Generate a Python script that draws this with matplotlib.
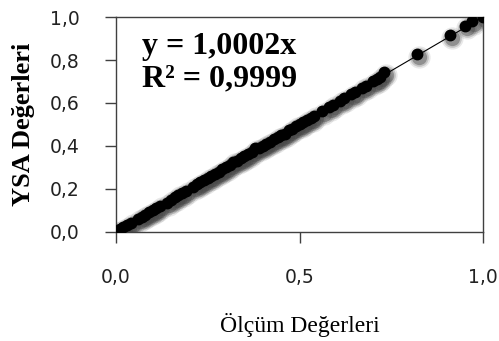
import numpy as np
import matplotlib
matplotlib.use('Agg')
import matplotlib.pyplot as plt
import matplotlib.transforms as mtransforms

# olcum (x) ve YSA (y) degerleri
olcum = [0.00, 0.01, 0.02, 0.03, 0.04, 0.06, 0.07, 0.08, 0.09, 0.10,
         0.11, 0.12, 0.14, 0.15, 0.16, 0.17, 0.18, 0.19, 0.21, 0.22,
         0.23, 0.24, 0.25, 0.26, 0.27, 0.28, 0.29, 0.30, 0.31, 0.32,
         0.33, 0.34, 0.35, 0.36, 0.37, 0.38, 0.39, 0.40, 0.41, 0.42,
         0.43, 0.44, 0.45, 0.46, 0.47, 0.48, 0.49, 0.50, 0.51, 0.52,
         0.53, 0.54, 0.56, 0.58, 0.59, 0.61, 0.62, 0.64, 0.65, 0.67,
         0.68, 0.70, 0.71, 0.72, 0.73, 0.82, 0.91, 0.95, 0.97, 1.00]
ysa = [0.005, 0.012, 0.021, 0.030, 0.042, 0.060, 0.071, 0.080, 0.092, 0.100,
       0.111, 0.121, 0.135, 0.150, 0.161, 0.172, 0.180, 0.192, 0.210, 0.221,
       0.230, 0.240, 0.252, 0.260, 0.271, 0.280, 0.291, 0.302, 0.312, 0.326,
       0.332, 0.343, 0.352, 0.361, 0.372, 0.390, 0.392, 0.400, 0.411, 0.420,
       0.431, 0.442, 0.450, 0.456, 0.472, 0.481, 0.493, 0.502, 0.511, 0.521,
       0.530, 0.541, 0.561, 0.580, 0.592, 0.610, 0.621, 0.640, 0.651, 0.672,
       0.681, 0.700, 0.710, 0.722, 0.744, 0.828, 0.915, 0.960, 0.980, 1.000]
egim = 1.0002

fig = plt.figure(figsize=(4.99, 3.41), dpi=100)
ax = fig.add_axes([0.2325, 0.320, 0.7355, 0.630])

# golge (bulanik gri)
for ms, al in [(16, 0.12), (13.5, 0.22), (11, 0.4)]:
    tr = mtransforms.offset_copy(ax.transData, fig=fig, x=2, y=-2.5, units='dots')
    ax.plot(olcum, ysa, 'o', ms=ms, color='#444444', alpha=al, mec='none',
            transform=tr, zorder=2)

xl = np.array([0.0, 1.0])
ax.plot(xl, egim * xl, color='black', lw=0.8, zorder=3)
ax.plot(olcum, ysa, 'o', ms=7.5, color='black', mec='black', zorder=4)

ax.set_xlim(0, 1)
ax.set_ylim(0, 1)
ax.set_xticks([0, 0.5, 1.0])
ax.set_xticklabels(['0,0', '0,5', '1,0'])
ax.set_yticks([0, 0.2, 0.4, 0.6, 0.8, 1.0])
ax.set_yticklabels(['0,0', '0,2', '0,4', '0,6', '0,8', '1,0'])
for s in ax.spines.values():
    s.set_color('#404040')
    s.set_linewidth(1)
ax.tick_params(axis='both', direction='out', length=8, width=1, color='#404040',
               labelsize=13.5, labelcolor='#222222')
ax.tick_params(axis='x', pad=18)
ax.tick_params(axis='y', pad=18)

ax.set_xlabel('Ölçüm Değerleri', fontname='Liberation Serif', fontsize=17, labelpad=19)
ax.set_ylabel('YSA Değerleri', fontname='Liberation Serif', fontsize=19,
              fontweight='bold', labelpad=11)

ax.text(0.07, 0.93, 'y = 1,0002x\nR² = 0,9999', transform=ax.transAxes,
        fontname='Liberation Serif', fontsize=23, fontweight='bold',
        va='top', ha='left', linespacing=1.15)

fig.savefig('out.png', dpi=100)
